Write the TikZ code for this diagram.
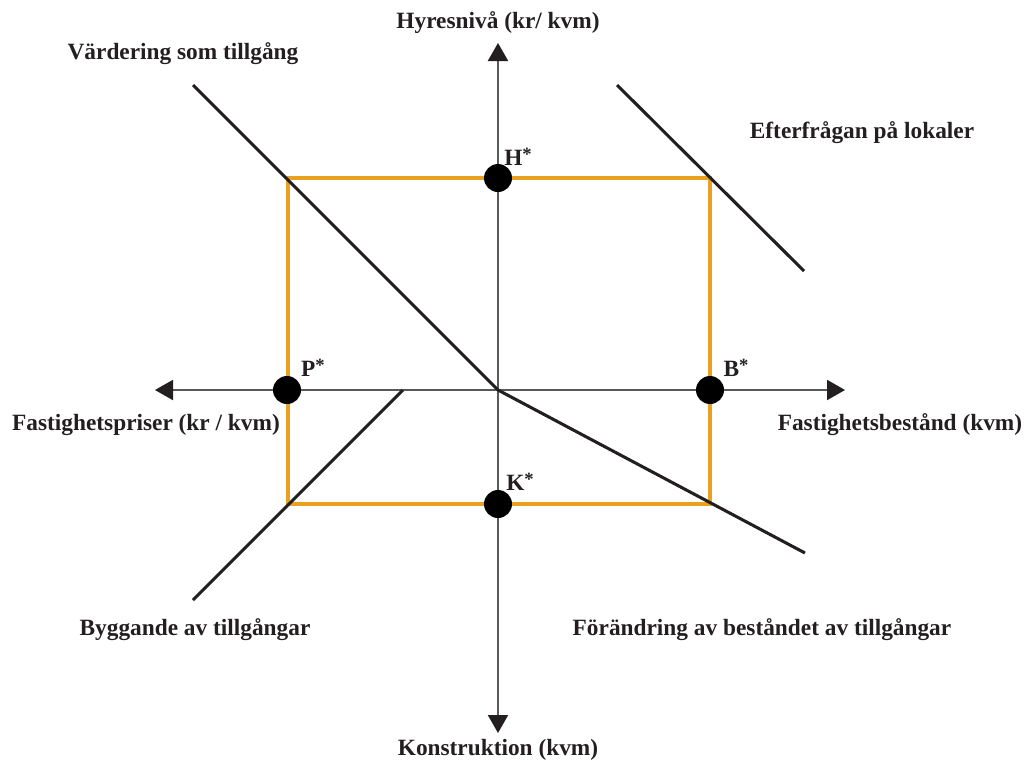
\documentclass[tikz,border=0pt]{standalone}
\usepackage{fontspec}
\setmainfont{Liberation Serif}
\usetikzlibrary{arrows.meta}
\definecolor{ink}{HTML}{231F20}
\definecolor{axisgray}{HTML}{58595B}
\definecolor{gold}{HTML}{E9A21F}
\tikzset{>/.tip={Triangle[length=13.5pt,width=15pt,color=ink]}}
\tikzset{
  lbl/.style={font=\fontsize{17.5}{20}\selectfont\bfseries, text=ink, inner sep=0pt},
  axis/.style={draw=axisgray, line width=1.5pt},
  curve/.style={draw=ink, line width=2.3pt},
  box/.style={draw=gold, line width=2.6pt},
  dot/.style={circle, fill=black, inner sep=0pt, minimum size=21pt}
}
\newcommand{\eqstar}{\raisebox{0.5ex}{\fontsize{14}{14}\selectfont *}}

\begin{document}
\begin{tikzpicture}[x=0.75pt,y=-0.75pt]
\useasboundingbox (0,0) rectangle (1029,765);

\coordinate (O) at (498,390);
\coordinate (ax-top) at (498,43);
\coordinate (ax-bot) at (498,733);
\coordinate (ax-left) at (155,390);
\coordinate (ax-right) at (845,390);

% quadrant curves
\coordinate (vard-end) at (193,85);
\coordinate (forand-end) at (805,553);
\coordinate (eft-a) at (617,85);
\coordinate (eft-b) at (804,271);
\coordinate (bygg-a) at (403,390);
\coordinate (bygg-b) at (193,600);

\draw[axis,->] (O) -- (ax-top);
\draw[axis,->] (O) -- (ax-bot);
\draw[axis,->] (O) -- (ax-left);
\draw[axis,->] (O) -- (ax-right);

\draw[box] (288,178) rectangle (710,504);

\draw[curve] (vard-end) -- (O) -- (forand-end);
\draw[curve] (eft-a) -- (eft-b);
\draw[curve] (bygg-a) -- (bygg-b);

\node[dot] (H) at (498,178) {};
\node[dot] (P) at (287,390) {};
\node[dot] (B) at (710,390) {};
\node[dot] (K) at (498,504) {};

\node[lbl] (H-lbl) at (518,157) {H\eqstar};
\node[lbl] (P-lbl) at (313,368) {P\eqstar};
\node[lbl] (B-lbl) at (736,368) {B\eqstar};
\node[lbl] (K-lbl) at (520,482) {K\eqstar};

\node[lbl] (hyres) at (498,23) {Hyresnivå (kr/ kvm)};
\node[lbl] (konstr) at (498,750) {Konstruktion (kvm)};
\node[lbl] (fpris) at (146,425) {Fastighetspriser (kr / kvm)};
\node[lbl] (fbest) at (900,425) {Fastighetsbestånd (kvm)};
\node[lbl] (vard) at (183,54) {Värdering som tillgång};
\node[lbl] (eft) at (862,133) {Efterfrågan på lokaler};
\node[lbl] (bygg) at (195,630) {Byggande av tillgångar};
\node[lbl] (forand) at (762,630) {Förändring av beståndet av tillgångar};
\end{tikzpicture}
\end{document}
